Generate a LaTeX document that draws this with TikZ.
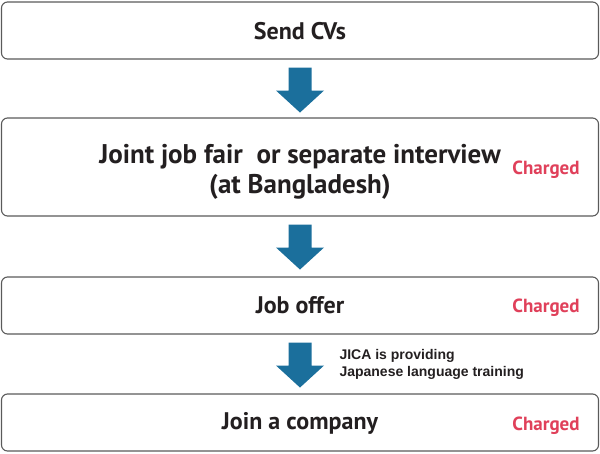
\documentclass[tikz,border=0pt]{standalone}
\usepackage{fontspec}
\setmainfont{PT Sans}
\newfontfamily\helv{Liberation Sans}
\usetikzlibrary{calc}
\definecolor{arrowblue}{HTML}{1B6F9C}
\definecolor{chargedred}{HTML}{E0405A}
\definecolor{boxgray}{HTML}{5A5A5A}
\definecolor{txt}{HTML}{231F20}
\tikzset{
  stepbox/.style={draw=boxgray, line width=1.1pt, rounded corners=6pt, minimum width=597pt, inner sep=0pt, fill=white},
  maintext/.style={font=\bfseries\fontsize{24}{30}\selectfont, text=txt, align=center},
  charged/.style={font=\bfseries\fontsize{19}{22}\selectfont, text=chargedred},
  note/.style={font=\helv\bfseries\fontsize{14}{17}\selectfont, text=txt, align=left, anchor=west},
  bigarrow/.style={fill=arrowblue, draw=none}
}
\newcommand{\downarrowshape}[1]{%
  \fill[bigarrow] ($(#1)+(-11.5,0)$) -- ($(#1)+(11.5,0)$) -- ($(#1)+(11.5,23)$) -- ($(#1)+(24,23)$)
    -- ($(#1)+(0,45)$) -- ($(#1)+(-24,23)$) -- ($(#1)+(-11.5,23)$) -- cycle;}
\begin{document}
\begin{tikzpicture}[x=1pt, y=-1pt]
\useasboundingbox (0,0) rectangle (600,453);
\node[stepbox, minimum height=57pt] (b1) at (300,30.5) {};
\node[stepbox, minimum height=98pt] (b2) at (300,167) {};
\node[stepbox, minimum height=57pt] (b3) at (300,305.5) {};
\node[stepbox, minimum height=57pt] (b4) at (300,422.5) {};
\node[maintext] (t1) at (300,31) {Send CVs};
\node[maintext, font=\bfseries\fontsize{27}{30}\selectfont] (t2) at (300,172) {Joint job fair\ \ or separate interview\\(at Bangladesh)};
\node[maintext] (t3) at (300,305) {Job offer};
\node[maintext] (t4) at (300,423) {Join a company};
\node[charged] (c2) at (546,170) {Charged};
\node[charged] (c3) at (546,308) {Charged};
\node[charged] (c4) at (546,426) {Charged};
\coordinate (a1) at ($(b1.south)+(0,8)$);
\coordinate (a2) at ($(b2.south)+(0,8)$);
\coordinate (a3) at ($(b3.south)+(0,8)$);
\downarrowshape{a1}
\downarrowshape{a2}
\downarrowshape{a3}
\node[note] (n1) at (336,364) {JICA is providing\\Japanese language training};
\end{tikzpicture}
\end{document}
